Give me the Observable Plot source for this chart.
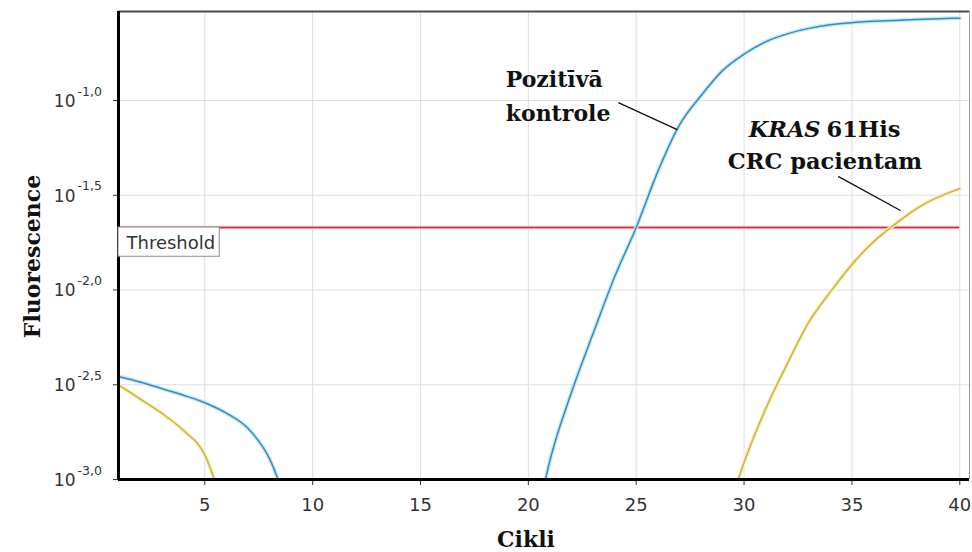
<!DOCTYPE html>
<html>
<head>
<meta charset="utf-8">
<script src="https://cdn.jsdelivr.net/npm/d3@7"></script>
<script src="https://cdn.jsdelivr.net/npm/@observablehq/plot@0.6"></script>
<style>
  html, body { margin: 0; padding: 0; background: white; }
</style>
</head>
<body>
<script>
// ---- Data ----
const cycles = [1,2,3,4,5,6,7,8,9,10,11,12,13,14,15,16,17,18,19,20,21,22,23,24,25,26,27,28,29,30,31,32,33,34,35,36,37,38,39,40];
// log10(fluorescence); null = not drawn
const positiveExp = [
  -2.456, -2.485, -2.52, -2.555, -2.595, -2.65, -2.73, -2.89, -3.2,
  null, null, null, null, null, null, null, null, null, null,
  -3.45, -2.90, -2.54, -2.23, -1.93, -1.67, -1.375, -1.13, -0.975, -0.842,
  -0.755, -0.69, -0.648, -0.619, -0.60, -0.589, -0.582, -0.577, -0.572, -0.568, -0.565
];
const patientExp = [
  -2.50, -2.575, -2.65, -2.74, -2.87, -3.2,
  null, null, null, null, null, null, null, null, null, null, null,
  null, null, null, null, null, null, null, null, null, null, null,
  -3.26, -2.91, -2.627, -2.39, -2.17, -2.01, -1.865, -1.745, -1.652, -1.57, -1.51, -1.465
];
const thresholdExp = -1.67;

const xTicks = [5, 10, 15, 20, 25, 30, 35, 40];
const yTickExp = [-3.0, -2.5, -2.0, -1.5, -1.0];
const yTickLabels = ["-3,0", "-2,5", "-2,0", "-1,5", "-1,0"];

// annotations
const posLines = ["Pozitīvā", "kontrole"];
const posX = 18.95;
const posExp = [-0.889, -1.069];
const patLine2 = "CRC pacientam";
const patLine2X = 33.75, patLine2Exp = -1.322;
const kras = "KRAS", krasRest = "61His";
const krasX = 33.64, krasExp = -1.152;
const leaderX1 = [24.17, 34.36], leaderY1 = [-1.011, -1.40];
const leaderX2 = [26.9, 37.25], leaderY2 = [-1.153, -1.58];

// ---- build tables ----
const toY = e => (e == null ? NaN : Math.pow(10, e));
const positive = cycles.map((c, i) => ({x: c, y: toY(positiveExp[i])}));
const patient = cycles.map((c, i) => ({x: c, y: toY(patientExp[i])}));
const yTicks = yTickExp.map(toY);
const yTickTable = yTickExp.map((e, i) => ({y: toY(e), lab: yTickLabels[i]}));
const posTable = posLines.map((t, i) => ({t, x: posX, y: toY(posExp[i])}));
const leaders = leaderX1.map((x, i) => ({x1: x, y1: toY(leaderY1[i]), x2: leaderX2[i], y2: toY(leaderY2[i])}));
const threshold = toY(thresholdExp);

const xDomain = [1, 40.45];
const yDomain = [1e-3, Math.pow(10, -0.53)];
const serif = "DejaVu Serif";

const chart = Plot.plot({
  width: 972,
  height: 552,
  marginLeft: 118,
  marginRight: 3,
  marginTop: 11,
  marginBottom: 73,
  style: {fontFamily: "DejaVu Sans", fontSize: "18px", color: "#333", background: "white"},
  x: {domain: xDomain, ticks: xTicks, tickSize: 6, tickPadding: 13, label: null},
  y: {type: "log", domain: yDomain, ticks: yTicks, tickFormat: () => "", tickSize: 5, label: null},
  marks: [
    // grid
    Plot.ruleX(xTicks, {stroke: "#dedede", strokeWidth: 1}),
    Plot.ruleY(yTicks, {stroke: "#dedede", strokeWidth: 1}),
    // frame
    Plot.ruleY([yDomain[1]], {stroke: "#4a4a4a", strokeWidth: 2}),
    Plot.ruleX([xDomain[1]], {stroke: "#9a9a9a", strokeWidth: 1}),
    // threshold
    Plot.ruleY([threshold], {x1: 1, x2: 40, stroke: "#f3c7cb", strokeWidth: 3.5}),
    Plot.ruleY([threshold], {x1: 1, x2: 40, stroke: "#c8323c", strokeWidth: 1.6}),
    // curves (halo + core)
    Plot.line(positive, {x: "x", y: "y", curve: "monotone-x", stroke: "#c4e8f7", strokeWidth: 4, clip: true}),
    Plot.line(positive, {x: "x", y: "y", curve: "monotone-x", stroke: "#3a8abf", strokeWidth: 1.5, clip: true}),
    Plot.line(patient, {x: "x", y: "y", curve: "monotone-x", stroke: "#f6f0b8", strokeWidth: 4, clip: true}),
    Plot.line(patient, {x: "x", y: "y", curve: "monotone-x", stroke: "#c7b443", strokeWidth: 1.5, clip: true}),
    // axes lines
    Plot.ruleX([1], {stroke: "black", strokeWidth: 3}),
    Plot.ruleY([yDomain[0]], {stroke: "black", strokeWidth: 3}),
    // threshold label
    Plot.text(["Threshold"], {x: 1, y: threshold, text: d => d, textAnchor: "start", dx: 8, dy: 16,
      fontFamily: "DejaVu Sans", fontSize: 18, fill: "#333", ariaLabel: "threshold-label"}),
    // y tick labels as 10^exp
    Plot.text(yTickTable, {y: "y", text: () => "10", frameAnchor: "left", textAnchor: "end", dx: -43, dy: 1,
      fontFamily: "DejaVu Sans", fontSize: 17, fill: "#333"}),
    Plot.text(yTickTable, {y: "y", text: "lab", frameAnchor: "left", textAnchor: "start", dx: -41, dy: -9,
      fontFamily: "DejaVu Sans", fontSize: 12.5, fill: "#333"}),
    // axis titles
    Plot.text(["Fluorescence"], {text: d => d, frameAnchor: "left", textAnchor: "middle", lineAnchor: "middle",
      rotate: -90, dx: -86, dy: 11,
      fontFamily: serif, fontWeight: "bold", fontSize: 22, fill: "#111"}),
    Plot.text(["Cikli"], {text: d => d, frameAnchor: "bottom", textAnchor: "middle", dx: -18, dy: 67,
      fontFamily: serif, fontWeight: "bold", fontSize: 22, fill: "#111"}),
    // annotations
    Plot.link(leaders, {x1: "x1", y1: "y1", x2: "x2", y2: "y2", stroke: "#111", strokeWidth: 1.3}),
    Plot.text(posTable, {x: "x", y: "y", text: "t", textAnchor: "start", fontFamily: serif, fontWeight: "bold", fontSize: 22, fill: "#111"}),
    Plot.text([patLine2], {x: () => patLine2X, y: () => toY(patLine2Exp), text: d => d, textAnchor: "middle",
      fontFamily: serif, fontWeight: "bold", fontSize: 22.5, fill: "#111"}),
    Plot.text([kras], {x: () => krasX, y: () => toY(krasExp), text: d => d, textAnchor: "end", dx: -2,
      fontFamily: serif, fontWeight: "bold", fontStyle: "italic", fontSize: 22.5, fill: "#111"}),
    Plot.text([krasRest], {x: () => krasX, y: () => toY(krasExp), text: d => d, textAnchor: "start", dx: 4,
      fontFamily: serif, fontWeight: "bold", fontSize: 22.5, fill: "#111"})
  ]
});
document.body.append(chart);

// box around the Threshold label, sized from the rendered text
(function () {
  let g = chart.querySelector('g[aria-label="threshold-label"]');
  let t = g ? g.querySelector("text") : null;
  if (!t) t = [...chart.querySelectorAll("text")].find(el => el.textContent === "Threshold");
  if (!t) return;
  g = t.parentNode;
  const sb = chart.getBoundingClientRect();
  const tb = t.getBoundingClientRect();
  const left = chart.scale("x").apply(1);
  const top = chart.scale("y").apply(threshold);
  const rect = document.createElementNS("http://www.w3.org/2000/svg", "rect");
  rect.setAttribute("x", left);
  rect.setAttribute("y", top);
  rect.setAttribute("width", (tb.right - sb.left) + 4 - left);
  rect.setAttribute("height", (tb.bottom - sb.top) + 3 - top);
  rect.setAttribute("fill", "white");
  rect.setAttribute("stroke", "#8a8a8a");
  rect.setAttribute("stroke-width", "1");
  g.parentNode.insertBefore(rect, g);
})();
</script>
</body>
</html>
